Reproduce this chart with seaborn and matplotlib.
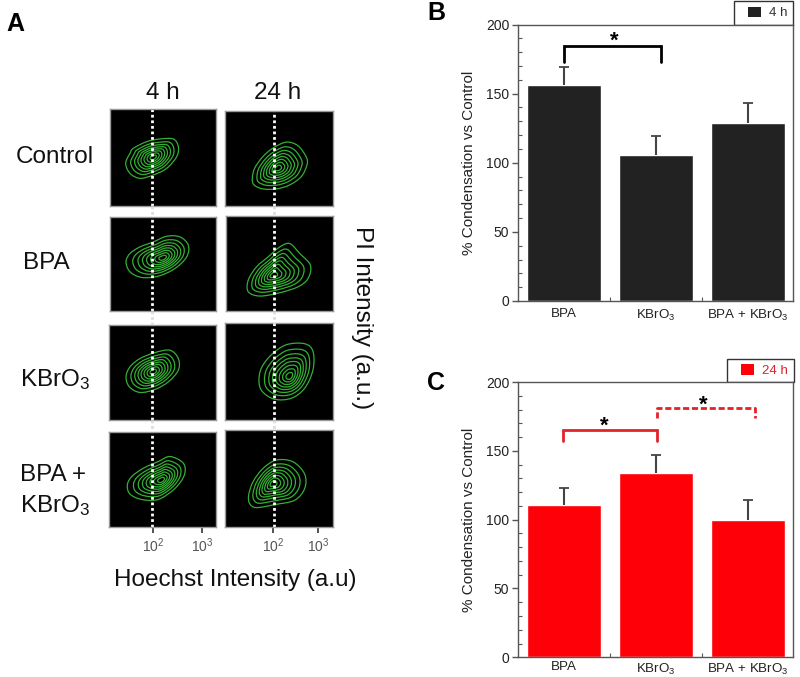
import numpy as np
import pandas as pd
import matplotlib
matplotlib.use("Agg")
import matplotlib.pyplot as plt
from matplotlib.lines import Line2D
from matplotlib.patches import Patch, PathPatch, Rectangle
from matplotlib.path import Path
import seaborn as sns

W, H = 800, 677

categories = ["BPA", "KBrO$_3$", "BPA + KBrO$_3$"]
mean_4h = [156.5, 105.5, 128.5]
err_4h = [12.5, 13.5, 14.5]
mean_24h = [110.5, 133.8, 99.5]
err_24h = [12.5, 13.2, 14.5]

# outer contour of each flow plot + density peak (traced in 3x crop units)
control_4h_x = [377, 390, 400, 440, 480, 520, 535, 530, 500, 460, 420, 390]
control_4h_y = [280, 250, 235, 215, 207, 207, 230, 260, 295, 315, 325, 310]
control_4h_peak = (460, 262)
control_24h_x = [758, 765, 790, 820, 860, 895, 920, 922, 905, 870, 830, 790, 763]
control_24h_y = [325, 295, 260, 235, 217, 228, 262, 285, 320, 345, 357, 357, 345]
control_24h_peak = (835, 295)
bpa_4h_x = [378, 390, 420, 460, 500, 540, 565, 560, 525, 475, 425, 390]
bpa_4h_y = [575, 550, 530, 515, 498, 500, 525, 560, 595, 618, 622, 605]
bpa_4h_peak = (490, 563)
bpa_24h_x = [745, 770, 805, 840, 870, 900, 932, 925, 895, 840, 780, 745]
bpa_24h_y = [630, 590, 560, 530, 520, 550, 585, 625, 650, 668, 678, 665]
bpa_24h_peak = (820, 615)
kbro3_4h_x = [378, 390, 420, 465, 510, 535, 535, 505, 465, 420, 388]
kbro3_4h_y = [170, 140, 115, 97, 90, 115, 150, 185, 208, 217, 200]
kbro3_4h_peak = (460, 155)
kbro3_24h_x = [778, 785, 815, 860, 915, 940, 940, 915, 875, 825, 788]
kbro3_24h_y = [185, 145, 105, 75, 72, 95, 150, 205, 235, 238, 215]
kbro3_24h_peak = (870, 170)
both_4h_x = [382, 395, 430, 475, 510, 550, 553, 525, 475, 425, 390]
both_4h_y = [495, 470, 445, 425, 410, 430, 465, 505, 538, 538, 522]
both_4h_peak = (485, 480)
both_24h_x = [747, 760, 790, 830, 880, 915, 915, 885, 825, 770, 750]
both_24h_y = [525, 485, 445, 420, 425, 462, 505, 540, 553, 562, 550]
both_24h_peak = (820, 490)
ring_scales = [1, 0.82, 0.68, 0.56, 0.45, 0.34, 0.23, 0.12]

sns.set_theme(style="ticks")
plt.rcParams["font.family"] = ["Liberation Sans", "DejaVu Sans"]
plt.rcParams["mathtext.default"] = "regular"

GREEN = "#33b033"
SPINE = "#555555"


def px_axes(fig, l, t, r, b):
    return fig.add_axes([l / W, 1 - b / H, (r - l) / W, (b - t) / H])


def px_text(fig, x, y, s, **kw):
    kw.setdefault("ha", "center")
    kw.setdefault("va", "center")
    kw.setdefault("color", "#111111")
    fig.text(x / W, 1 - y / H, s, **kw)


def closed_curve(xs, ys):
    # smooth closed path through the traced points
    pts = np.column_stack([xs, ys])
    prev_p, next_p = np.roll(pts, 1, axis=0), np.roll(pts, -1, axis=0)
    tang = (next_p - prev_p) / 6
    verts = [pts[0]]
    codes = [Path.MOVETO]
    for i in range(len(pts)):
        j = (i + 1) % len(pts)
        verts += [pts[i] + tang[i], pts[j] - tang[j], pts[j]]
        codes += [Path.CURVE4] * 3
    return Path(verts, codes)


def flow_panel(fig, box, lim, xs, ys, peak, dot_x, ticks=None):
    ax = px_axes(fig, *box)
    ax.set_facecolor("black")
    ax.set_xlim(lim[0], lim[1])
    ax.set_ylim(lim[3], lim[2])
    for s in ax.spines.values():
        s.set_color("#999999")
        s.set_linewidth(1)
    xs, ys = np.array(xs, float), np.array(ys, float)
    for k in ring_scales:
        ax.add_patch(PathPatch(closed_curve(peak[0] + k * (xs - peak[0]), peak[1] + k * (ys - peak[1])),
                               fc="none", ec=GREEN, lw=0.9))
    ax.axvline(dot_x, color="white", lw=2.0, ls=(0, (1, 1)))
    ax.set_yticks([])
    if ticks:
        ax.set_xticks(ticks, ["$10^2$", "$10^3$"])
        ax.tick_params(axis="x", length=4, width=1.2, color="#333333", labelsize=10,
                       labelcolor="#555555", pad=3)
    else:
        ax.set_xticks([])
    return ax


def bar_panel(fig, box, values, errors, color, label_pad=5):
    ax = px_axes(fig, *box)
    df = pd.DataFrame({"treatment": categories, "pct": values})
    sns.barplot(data=df, x="treatment", y="pct", color=color, saturation=1, width=0.8, ax=ax)
    _, caps, _ = ax.errorbar(range(3), values, yerr=[[0, 0, 0], errors], fmt="none", ecolor="#444444",
                             elinewidth=1.5, capsize=3.6, capthick=1.3)
    caps[0].set_visible(False)  # no cap on the bar top
    ax.set_xlim(-0.505, 2.49)
    ax.set_ylim(0, 200)
    ax.set_xlabel("")
    ax.set_ylabel("% Condensation vs Control", fontsize=11, color="#222222", labelpad=7)
    ax.set_yticks([0, 50, 100, 150, 200])
    ax.set_yticks(np.arange(0, 201, 10), minor=True)
    ax.set_xticks([0.5, 1.5], minor=True)
    ax.tick_params(axis="y", which="major", direction="out", length=4, width=1, color=SPINE,
                   labelsize=10, labelcolor="#222222", pad=2)
    ax.tick_params(axis="y", which="minor", direction="in", length=3, width=0.8, color=SPINE)
    ax.tick_params(axis="x", which="major", length=0, labelsize=9.6, labelcolor="#222222", pad=label_pad)
    ax.tick_params(axis="x", which="minor", direction="in", length=3, width=0.8, color=SPINE)
    for s in ax.spines.values():
        s.set_visible(True)
        s.set_color(SPINE)
        s.set_linewidth(1)
    return ax


def bracket(ax, x0, x1, top, drop0, drop1, color, lw=2, ls="-"):
    ax.plot([x0, x0, x1, x1], [drop0, top, top, drop1], color=color, lw=lw, ls=ls,
            solid_joinstyle="miter", clip_on=False)


def time_legend(fig, ax, box, square_x, y, label, color, text_color):
    l, t, r, b = box
    fig.add_artist(Rectangle((l / W, 1 - b / H), (r - l) / W, (b - t) / H, transform=fig.transFigure,
                             fc="white", ec="#333333", lw=1, zorder=-1))
    leg = ax.legend(handles=[Patch(facecolor=color, edgecolor="none", label=label)], loc="center left",
                    bbox_to_anchor=(square_x / W, 1 - y / H), bbox_transform=fig.transFigure,
                    borderaxespad=0, borderpad=0, frameon=False, fontsize=9.6, handlelength=0.95,
                    handleheight=0.85, handletextpad=0.6, labelcolor=text_color)
    leg.set_zorder(5)


fig = plt.figure(figsize=(W / 100, H / 100), dpi=100, facecolor="white")

# panel A: flow plots
left_tick, right_tick = [459, 606], [821, 955]
flow_panel(fig, (110, 109, 216, 206), (330, 648, 117, 408), control_4h_x, control_4h_y, control_4h_peak, 456)
flow_panel(fig, (225, 111, 333, 206), (676, 1000, 124, 408), control_24h_x, control_24h_y, control_24h_peak, 822)
flow_panel(fig, (110, 217, 216, 311), (330, 648, 440, 723), bpa_4h_x, bpa_4h_y, bpa_4h_peak, 456)
flow_panel(fig, (226, 216, 333, 311), (678, 1000, 437, 723), bpa_24h_x, bpa_24h_y, bpa_24h_peak, 822)
flow_panel(fig, (109, 325, 216, 420), (327, 648, 14, 300), kbro3_4h_x, kbro3_4h_y, kbro3_4h_peak, 456)
flow_panel(fig, (225, 323, 333, 420), (676, 1000, 10, 300), kbro3_24h_x, kbro3_24h_y, kbro3_24h_peak, 822)
flow_panel(fig, (109, 432, 216, 527), (327, 648, 337, 620), both_4h_x, both_4h_y, both_4h_peak, 456, left_tick)
flow_panel(fig, (225, 430, 333, 527), (676, 1000, 330, 620), both_24h_x, both_24h_y, both_24h_peak, 822, right_tick)

# faint dots bridging the gaps between panels
for gx in (152, 274):
    for y0, y1 in ((206, 217), (311, 324), (420, 431)):
        fig.add_artist(Line2D([gx / W, gx / W], [1 - y0 / H, 1 - y1 / H], color="#dddddd", lw=2, ls=(0, (1, 1))))

px_text(fig, 163, 93, "4 h", fontsize=17.5)
px_text(fig, 278, 93, "24 h", fontsize=17.5)
px_text(fig, 54.5, 157, "Control", fontsize=17.5)
px_text(fig, 46, 263, "BPA", fontsize=17.5)
px_text(fig, 55, 380, "KBrO$_3$", fontsize=17.5)
px_text(fig, 53, 475, "BPA +", fontsize=17.5)
px_text(fig, 55, 506, "KBrO$_3$", fontsize=17.5)
px_text(fig, 235, 580, "Hoechst Intensity (a.u)", fontsize=17.5)
px_text(fig, 362, 318, "PI Intensity (a.u.)", fontsize=17.5, rotation=270)

px_text(fig, 15, 24, "A", fontsize=18, fontweight="bold", color="black")
px_text(fig, 436, 13, "B", fontsize=18, fontweight="bold", color="black")
px_text(fig, 436, 383, "C", fontsize=18, fontweight="bold", color="black")

# panel B
ax_b = bar_panel(fig, (517.5, 24.5, 793, 301), mean_4h, err_4h, "#222222")
bracket(ax_b, 0, 1.05, 184.7, 173, 173, "black")
ax_b.text(0.545, 188, "*", fontsize=16, fontweight="bold", ha="center", va="center", color="black")
time_legend(fig, ax_b, (734, 1, 793, 24.5), 748, 13, "4 h", "#222222", "#333333")

# panel C
RED_LINE = "#e2222a"
ax_c = bar_panel(fig, (517.5, 382, 793, 657.3), mean_24h, err_24h, "#fe0008", label_pad=3)
bracket(ax_c, -0.015, 1.015, 165, 157, 157, RED_LINE)
bracket(ax_c, 1.015, 2.08, 181, 173.5, 173.5, RED_LINE, ls=(0, (2.2, 1)))
ax_c.text(0.435, 168, "*", fontsize=16, fontweight="bold", ha="center", va="center", color="black")
ax_c.text(1.51, 183, "*", fontsize=16, fontweight="bold", ha="center", va="center", color="black")
time_legend(fig, ax_c, (727, 359, 794, 382), 741, 370.5, "24 h", "#fe0008", "#e2222a")

fig.savefig("out.png", dpi=100, facecolor="white")
